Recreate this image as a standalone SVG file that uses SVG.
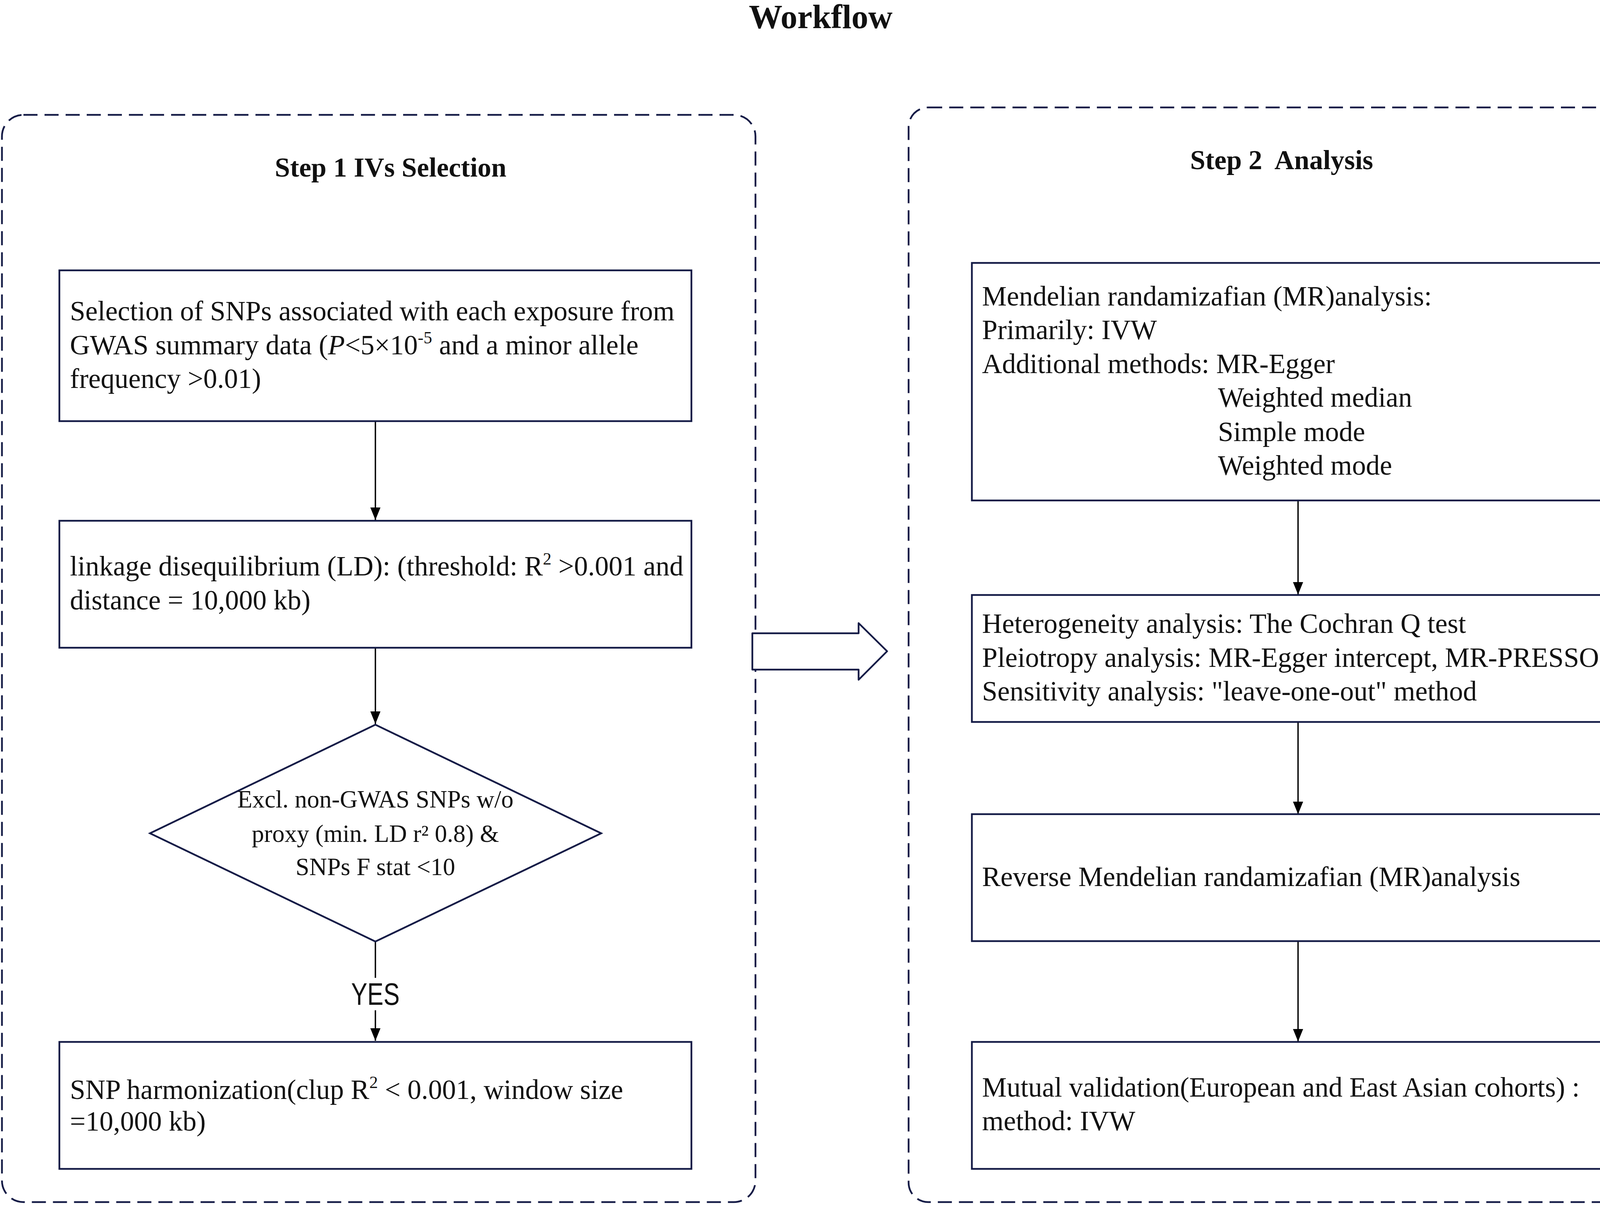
<svg xmlns="http://www.w3.org/2000/svg" width="4331" height="3087" viewBox="0 0 4331 3087">
<style>
.bg{fill:#ffffff}
.frame{fill:none;stroke:#141b46;stroke-width:4.5;stroke-dasharray:36 18}
.box{fill:#ffffff;stroke:#141b46;stroke-width:4.5}
.conn{fill:none;stroke:#000000;stroke-width:3.5}
.t{font-family:"Liberation Serif","Times New Roman",serif;font-size:71px;fill:#111111}
.d{font-family:"Liberation Serif","Times New Roman",serif;font-size:63px;fill:#111111;text-anchor:middle}
.h{font-family:"Liberation Serif","Times New Roman",serif;font-weight:bold;font-size:70px;fill:#111111;text-anchor:middle}
.title{font-size:86px}
.yes{font-family:"Liberation Sans",Arial,sans-serif;font-size:80px;fill:#111111;text-anchor:middle}
</style>
<defs>
<marker id="ah" viewBox="0 0 32 26" refX="32" refY="13" markerWidth="32" markerHeight="26" markerUnits="userSpaceOnUse" orient="auto">
<path d="M0,0 L32,13 L0,26 z" fill="#000000"/>
</marker>
</defs>
<rect class="bg" x="0" y="0" width="4331" height="3087"/>
<text id="title" x="2101" y="72" class="h title">Workflow</text>

<g id="step1-frame">
<rect class="frame" x="5" y="294" width="1929" height="2783" rx="55" ry="55"/>
<text x="1000" y="452" class="h">Step 1 IVs Selection</text>
</g>
<g id="step2-frame">
<rect class="frame" x="2326" y="275" width="1995" height="2802" rx="50" ry="50"/>
<text x="3281" y="433" class="h" xml:space="preserve">Step 2  Analysis</text>
</g>

<g id="connectors">
<line class="conn" x1="961" y1="1078" x2="961" y2="1331" marker-end="url(#ah)"/>
<line class="conn" x1="961" y1="1658" x2="961" y2="1853" marker-end="url(#ah)"/>
<line class="conn" x1="961" y1="2410" x2="961" y2="2503"/>
<line class="conn" x1="961" y1="2586" x2="961" y2="2664" marker-end="url(#ah)"/>
<line class="conn" x1="3323" y1="1281" x2="3323" y2="1522" marker-end="url(#ah)"/>
<line class="conn" x1="3323" y1="1848" x2="3323" y2="2084" marker-end="url(#ah)"/>
<line class="conn" x1="3323" y1="2409" x2="3323" y2="2666" marker-end="url(#ah)"/>
<text x="961" y="2572" class="yes" textLength="124" lengthAdjust="spacingAndGlyphs">YES</text>
</g>

<g id="block-arrow">
<polygon points="1926,1621 2198,1621 2198,1595 2271,1667 2198,1740 2198,1714 1926,1714" fill="#ffffff" stroke="#141b46" stroke-width="4.5" stroke-linejoin="round"/>
</g>

<g id="snp-selection">
<rect class="box" x="152" y="692" width="1618" height="386"/>
<text class="t" x="179" y="820">Selection of SNPs associated with each exposure from</text>
<text class="t" x="179" y="907">GWAS summary data (<tspan font-style="italic">P</tspan>&lt;5×10<tspan dy="-28" style="font-size:44px">-5</tspan><tspan dy="28"> and a minor allele</tspan></text>
<text class="t" x="179" y="993">frequency &gt;0.01)</text>
</g>

<g id="ld-clumping">
<rect class="box" x="152" y="1333" width="1618" height="325"/>
<text class="t" x="179" y="1473">linkage disequilibrium (LD): (threshold: R<tspan dy="-28" style="font-size:44px">2</tspan><tspan dy="28"> &gt;0.001 and</tspan></text>
<text class="t" x="179" y="1560">distance = 10,000 kb)</text>
</g>

<g id="exclusion-decision">
<polygon points="961,1855 1539,2133 961,2410 384,2133" fill="#ffffff" stroke="#141b46" stroke-width="4.5"/>
<text class="d" x="961" y="2067">Excl. non-GWAS SNPs w/o</text>
<text class="d" x="961" y="2155">proxy (min. LD r² 0.8) &amp;</text>
<text class="d" x="961" y="2240">SNPs F stat &lt;10</text>
</g>

<g id="harmonization">
<rect class="box" x="152" y="2667" width="1618" height="325"/>
<text class="t" x="179" y="2813">SNP harmonization(clup R<tspan dy="-28" style="font-size:44px">2</tspan><tspan dy="28"> &lt; 0.001, window size</tspan></text>
<text class="t" x="179" y="2894">=10,000 kb)</text>
</g>

<g id="mr-analysis">
<rect class="box" x="2488" y="673" width="1673" height="608"/>
<text class="t" x="2514" y="782">Mendelian randamizafian (MR)analysis:</text>
<text class="t" x="2514" y="868">Primarily: IVW</text>
<text class="t" x="2514" y="955">Additional methods: MR-Egger</text>
<text class="t" x="3118" y="1041">Weighted median</text>
<text class="t" x="3118" y="1129">Simple mode</text>
<text class="t" x="3118" y="1215">Weighted mode</text>
</g>

<g id="sensitivity">
<rect class="box" x="2488" y="1523" width="1673" height="325"/>
<text class="t" x="2514" y="1620">Heterogeneity analysis: The Cochran Q test</text>
<text class="t" x="2514" y="1707">Pleiotropy analysis: MR-Egger intercept, MR-PRESSO</text>
<text class="t" x="2514" y="1793">Sensitivity analysis: "leave-one-out" method</text>
</g>

<g id="reverse-mr">
<rect class="box" x="2488" y="2084" width="1673" height="325"/>
<text class="t" x="2514" y="2268">Reverse Mendelian randamizafian (MR)analysis</text>
</g>

<g id="mutual-validation">
<rect class="box" x="2488" y="2667" width="1673" height="325"/>
<text class="t" x="2514" y="2807">Mutual validation(European and East Asian cohorts) :</text>
<text class="t" x="2514" y="2893">method: IVW</text>
</g>
</svg>
